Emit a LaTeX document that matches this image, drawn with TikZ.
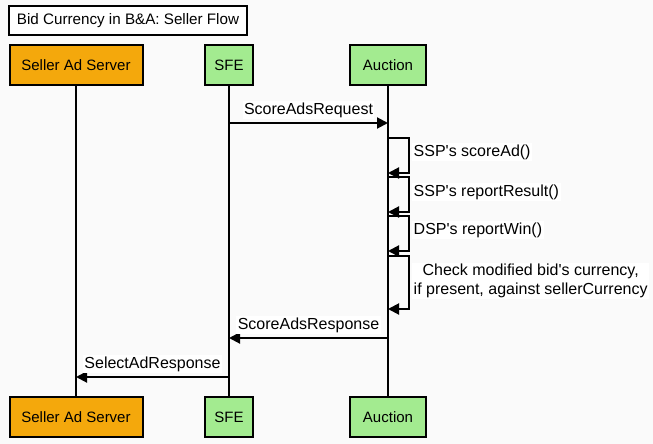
\documentclass[tikz,border=0pt]{standalone}
\usepackage{fontspec}
\setmainfont{Liberation Sans}
\usetikzlibrary{arrows.meta}
\definecolor{bg}{HTML}{FAFAFA}
\definecolor{sellerorange}{HTML}{F4A80C}
\definecolor{svcgreen}{HTML}{A3EB90}
\newcommand{\aq}{\textquotesingle}
\tikzset{
  actor/.style={draw=black, line width=2pt, minimum height=40pt, inner sep=0pt, font=\fontsize{15}{18}\selectfont},
  lifeline/.style={line width=2pt},
  msg/.style={line width=2pt, -{Triangle[length=11pt,width=11pt]}},
  lbl/.style={fill=white, inner sep=1.5pt, font=\fontsize{16}{19}\selectfont},
}
\begin{document}
\begin{tikzpicture}[x=1pt,y=-1pt]
\useasboundingbox[fill=bg] (0,0) rectangle (653,444);
% title
\node[draw=black, line width=2pt, fill=white, minimum width=238pt, minimum height=29pt, inner sep=0pt, font=\fontsize{15.2}{18}\selectfont] (title) at (128,20.5) {Bid Currency in B\&A: Seller Flow};
% actors top
\node[actor, fill=sellerorange, minimum width=133pt] (sat) at (76,65) {Seller Ad Server};
\node[actor, fill=svcgreen, minimum width=48pt] (sfet) at (229,65) {SFE};
\node[actor, fill=svcgreen, minimum width=76pt] (auct) at (388,65) {Auction};
% actors bottom
\node[actor, fill=sellerorange, minimum width=133pt] (sab) at (76,417) {Seller Ad Server};
\node[actor, fill=svcgreen, minimum width=48pt] (sfeb) at (229,417) {SFE};
\node[actor, fill=svcgreen, minimum width=76pt] (aucb) at (388,417) {Auction};
% lifelines
\draw[lifeline] (sat.south) -- (sab.north);
\draw[lifeline] (sfet.south) -- (sfeb.north);
\draw[lifeline] (auct.south) -- (aucb.north);
% coordinates on lifelines
\coordinate (sfe1) at (229,123);
\coordinate (auc1) at (388,123);
% ScoreAdsRequest
\draw[msg] (sfe1) -- node[lbl, above=3pt] (l1) {ScoreAdsRequest} (auc1);
% self loops
\coordinate (a2s) at (388,138); \coordinate (a2e) at (388,173);
\coordinate (a3s) at (388,177); \coordinate (a3e) at (388,212);
\coordinate (a4s) at (388,216); \coordinate (a4e) at (388,251);
\coordinate (a5s) at (388,256); \coordinate (a5e) at (388,309);
\draw[msg] (a2s) -- ++(21,0) |- (a2e);
\draw[msg] (a3s) -- ++(21,0) |- (a3e);
\draw[msg] (a4s) -- ++(21,0) |- (a4e);
\draw[msg] (a5s) -- ++(21,0) |- (a5e);
\node[lbl, anchor=west] (l2) at (412,152) {SSP\aq s scoreAd()};
\node[lbl, anchor=west] (l3) at (412,192) {SSP\aq s reportResult()};
\node[lbl, anchor=west] (l4) at (412,230) {DSP\aq s reportWin()};
\node[lbl, anchor=west, align=center, font=\fontsize{16}{18.5}\selectfont] (l5) at (412,281) {Check modified bid\aq s currency,\\if present, against sellerCurrency};
% ScoreAdsResponse
\coordinate (auc6) at (388,338);
\coordinate (sfe6) at (229,338);
\draw[msg] (auc6) -- node[lbl, above=3pt] (l6) {ScoreAdsResponse} (sfe6);
% SelectAdResponse
\coordinate (sfe7) at (229,377);
\coordinate (sa7) at (76,377);
\draw[msg] (sfe7) -- node[lbl, above=3pt] (l7) {SelectAdResponse} (sa7);
\end{tikzpicture}
\end{document}
